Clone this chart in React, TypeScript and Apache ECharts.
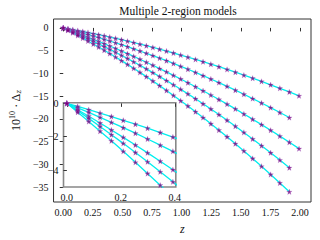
import React, { useEffect, useRef } from "react";
import * as echarts from "echarts";

const TITLE = "Multiple 2-region models";

// redshift sample points (shared by all models)
const Z = [0, 0.04, 0.081, 0.123, 0.165, 0.209, 0.254, 0.299, 0.346, 0.393, 0.442, 0.492, 0.543, 0.595, 0.648, 0.702, 0.757, 0.814, 0.872, 0.931, 0.992, 1.053, 1.117, 1.181, 1.247, 1.315, 1.384, 1.454, 1.526, 1.6, 1.675, 1.752, 1.83, 1.91, 1.992];

// 10^10 * Delta_z for each model
const DZ1 = [0, -0.18, -0.38, -0.58, -0.79, -1.02, -1.25, -1.49, -1.75, -2.02, -2.3, -2.6, -2.91, -3.23, -3.57, -3.92, -4.29, -4.68, -5.09, -5.52, -5.97, -6.43, -6.93, -7.44, -7.98, -8.54, -9.13, -9.74, -10.39, -11.07, -11.77, -12.51, -13.28, -14.09, -14.94];
const DZ2 = [0, -0.27, -0.54, -0.84, -1.14, -1.46, -1.79, -2.14, -2.51, -2.88, -3.28, -3.7, -4.14, -4.6, -5.08, -5.58, -6.09, -6.65, -7.22, -7.82, -8.45, -9.09, -9.79, -10.5, -11.24, -12.03, -12.85, -13.7, -14.6, -15.54, -16.52, -17.54, -18.6, -19.72];
const DZ3 = [0, -0.38, -0.77, -1.18, -1.6, -2.04, -2.5, -2.97, -3.47, -3.98, -4.52, -5.08, -5.67, -6.27, -6.9, -7.55, -8.22, -8.94, -9.67, -10.44, -11.24, -12.06, -12.94, -13.83, -14.77, -15.75, -16.77, -17.82, -18.93, -20.08, -21.27, -22.52, -23.81, -25.15, -26.56];
const DZ4 = [0, -0.44, -0.9, -1.39, -1.88, -2.4, -2.95, -3.51, -4.11, -4.71, -5.36, -6.03, -6.73, -7.46, -8.22, -9.01, -9.83, -10.69, -11.59, -12.52, -13.51, -14.51, -15.59, -16.69, -17.84, -19.06, -20.32, -21.62, -22.99, -24.43, -25.91, -27.47, -29.08, -30.76];
const DZ5 = [0, -0.53, -1.09, -1.67, -2.25, -2.88, -3.54, -4.21, -4.91, -5.64, -6.41, -7.2, -8.03, -8.89, -9.79, -10.72, -11.68, -12.7, -13.76, -14.85, -16.01, -17.18, -18.44, -19.72, -21.07, -22.49, -23.95, -25.47, -27.06, -28.73, -30.45, -32.25, -34.11, -36.06];
const MODELS = [DZ1, DZ2, DZ3, DZ4, DZ5];

const X_TICKS = [0, 0.25, 0.5, 0.75, 1.0, 1.25, 1.5, 1.75, 2.0];
const Y_TICKS = [0, -5, -10, -15, -20, -25, -30, -35];
const INSET_X_TICKS = [0, 0.2, 0.4];
const INSET_Y_TICKS = [0, -2, -4];

const STAR =
  "path://M50,0L61.8,34.5L97.6,34.5L68.8,55.9L79.4,90.5L50,69.1L20.6,90.5L31.2,55.9L2.4,34.5L38.2,34.5Z";
const FONT = "Liberation Serif, DejaVu Serif, serif";
const fmtMinus = (s: string) => s.replace("-", "\u2212");

function pairs(vals: number[]) {
  return vals.map((v, i) => [Z[i], v]);
}

export default function App() {
  const ref = useRef<HTMLDivElement>(null);
  useEffect(() => {
    document.body.style.margin = "0";
    const chart = echarts.init(ref.current!, undefined, { renderer: "svg" });

    const series: any[] = [];
    [0, 1].forEach((g) => {
      const zBase = g === 1 ? 20 : 2;
      MODELS.forEach((m) => {
        series.push({
          type: "line",
          xAxisIndex: g,
          yAxisIndex: g,
          data: pairs(m),
          showSymbol: false,
          symbol: "none",
          lineStyle: { color: "#00eeee", width: 1.3 },
          clip: true,
          z: zBase,
          silent: true,
        });
      });
      MODELS.forEach((m) => {
        series.push({
          type: "scatter",
          xAxisIndex: g,
          yAxisIndex: g,
          data: pairs(m),
          symbol: STAR,
          symbolSize: 5.5,
          itemStyle: { color: "#7a007a", borderColor: "rgba(170,110,210,0.55)", borderWidth: 0.5 },
          clip: true,
          z: zBase + 1,
          silent: true,
        });
      });
    });

    const labelStyle = { color: "#111", fontFamily: FONT, fontSize: 10 };

    chart.setOption({
      animation: false,
      backgroundColor: "#fff",
      graphic: [
        {
          type: "text",
          x: 178,
          y: 11,
          style: {
            text: TITLE,
            fontFamily: FONT,
            fontSize: 11.5,
            fill: "#111",
            align: "center",
            verticalAlign: "middle",
          },
        },
      ],
      grid: [
        { left: 45, top: 19, width: 266, height: 185, show: true, borderColor: "#333", borderWidth: 1, backgroundColor: "#fff" },
        { left: 63.5, top: 102.7, width: 112.3, height: 84.3, show: true, borderColor: "#888", borderWidth: 1.6, backgroundColor: "#fff", z: 10 },
      ],
      xAxis: [
        {
          type: "value",
          gridIndex: 0,
          min: -0.082,
          max: 2.093,
          axisLine: { show: false },
          splitLine: { show: false },
          axisTick: { show: true, customValues: X_TICKS, length: 3.5, lineStyle: { color: "#333" } },
          axisLabel: { customValues: X_TICKS, formatter: (v: number) => v.toFixed(2), margin: 5, ...labelStyle },
          name: "z",
          nameLocation: "middle",
          nameGap: 21,
          nameTextStyle: { fontFamily: FONT, fontSize: 12, fontStyle: "italic", color: "#111" },
        },
        {
          type: "value",
          gridIndex: 1,
          min: -0.0125,
          max: 0.4037,
          z: 11,
          axisLine: { show: false },
          splitLine: { show: false },
          axisTick: { show: true, customValues: INSET_X_TICKS, length: 3.5, lineStyle: { color: "#333" } },
          axisLabel: { customValues: INSET_X_TICKS, formatter: (v: number) => v.toFixed(1), margin: 5, ...labelStyle },
        },
      ],
      yAxis: [
        {
          type: "value",
          gridIndex: 0,
          min: -38.3,
          max: 1.96,
          axisLine: { show: false },
          splitLine: { show: false },
          axisTick: { show: true, customValues: Y_TICKS, length: 3.5, lineStyle: { color: "#333" } },
          axisLabel: { customValues: Y_TICKS, formatter: (v: number) => fmtMinus(String(v)), margin: 5, ...labelStyle },
          name: "{n|10}{s|10}{n| \u00b7 \u0394}{b|z}",
          nameLocation: "middle",
          nameRotate: 90,
          nameGap: 30,
          nameTextStyle: {
            fontFamily: FONT,
            color: "#111",
            rich: {
              n: { fontFamily: FONT, fontSize: 12, color: "#111", lineHeight: 15 },
              s: { fontFamily: FONT, fontSize: 8, color: "#111", verticalAlign: "top", lineHeight: 15, padding: [0, 0, 6, 0] },
              b: { fontFamily: FONT, fontSize: 9, fontStyle: "italic", color: "#111", lineHeight: 15, padding: [4, 0, 0, 0] },
            },
          },
        },
        {
          type: "value",
          gridIndex: 1,
          min: -5.02,
          max: 0.04,
          z: 11,
          axisLine: { show: false },
          splitLine: { show: false },
          axisTick: { show: true, customValues: INSET_Y_TICKS, length: 3.5, lineStyle: { color: "#333" } },
          axisLabel: { customValues: INSET_Y_TICKS, formatter: (v: number) => fmtMinus(String(v)), margin: 5, ...labelStyle },
        },
      ],
      series,
    });
    return () => chart.dispose();
  }, []);
  return <div ref={ref} style={{ width: 320, height: 240 }} />;
}
